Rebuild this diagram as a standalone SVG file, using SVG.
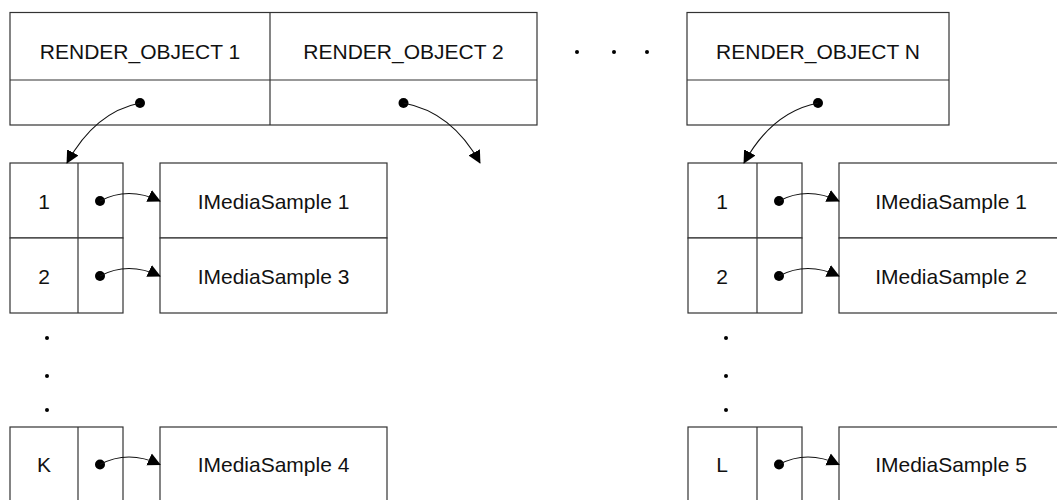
<svg xmlns="http://www.w3.org/2000/svg" width="1057" height="500" viewBox="0 0 1057 500">
<defs>
<style>
.box{fill:#fff;stroke:#333;stroke-width:1.2}
.ln{stroke:#333;stroke-width:1.2;fill:none}
.t{font-family:"Liberation Sans",Arial,sans-serif;font-size:21px;fill:#111;text-anchor:middle}
.c{fill:none;stroke:#111;stroke-width:1.1}
.d{fill:#000}
</style>
<marker id="ah" viewBox="0 0 14 14" refX="13" refY="7" markerUnits="userSpaceOnUse" markerWidth="13" markerHeight="14" orient="auto">
<path d="M0,0 L14,7 L0,14 z" fill="#000"/>
</marker>
</defs>
<rect width="1057" height="500" fill="#fff"/>

<g id="render-table-1">
<rect class="box" x="10" y="12.5" width="527" height="112.5"/>
<line class="ln" x1="10" y1="80" x2="537" y2="80"/>
<line class="ln" x1="270" y1="12.5" x2="270" y2="125"/>
<text class="t" x="140" y="59">RENDER_OBJECT 1</text>
<text class="t" x="403.5" y="59">RENDER_OBJECT 2</text>
</g>

<g id="ellipsis-h">
<circle class="d" cx="577" cy="52" r="2"/>
<circle class="d" cx="614" cy="52" r="2"/>
<circle class="d" cx="647" cy="52" r="2"/>
</g>

<g id="render-table-n">
<rect class="box" x="687" y="12.5" width="262" height="112.5"/>
<line class="ln" x1="687" y1="80" x2="949" y2="80"/>
<text class="t" x="818" y="59">RENDER_OBJECT N</text>
</g>

<g id="list-1">
<rect class="box" x="10" y="163" width="113" height="75"/>
<line class="ln" x1="78" y1="163" x2="78" y2="238"/>
<text class="t" x="44" y="208.5">1</text>
<rect class="box" x="10" y="238" width="113" height="75"/>
<line class="ln" x1="78" y1="238" x2="78" y2="313"/>
<text class="t" x="44" y="283.5">2</text>
<circle class="d" cx="47" cy="338" r="2"/>
<circle class="d" cx="47" cy="376" r="2"/>
<circle class="d" cx="47" cy="410" r="2"/>
<rect class="box" x="10" y="427" width="113" height="80"/>
<line class="ln" x1="78" y1="427" x2="78" y2="507"/>
<text class="t" x="44" y="472">K</text>
</g>

<g id="samples-1">
<rect class="box" x="160" y="163" width="227" height="75"/>
<text class="t" x="273.5" y="208.5">IMediaSample 1</text>
<rect class="box" x="160" y="238" width="227" height="75"/>
<text class="t" x="273.5" y="283.5">IMediaSample 3</text>
<rect class="box" x="160" y="427" width="227" height="80"/>
<text class="t" x="273.5" y="472">IMediaSample 4</text>
</g>

<g id="list-n">
<rect class="box" x="688" y="163" width="114" height="75"/>
<line class="ln" x1="757" y1="163" x2="757" y2="238"/>
<text class="t" x="722" y="208.5">1</text>
<rect class="box" x="688" y="238" width="114" height="75"/>
<line class="ln" x1="757" y1="238" x2="757" y2="313"/>
<text class="t" x="722" y="283.5">2</text>
<circle class="d" cx="726" cy="338" r="2"/>
<circle class="d" cx="726" cy="376" r="2"/>
<circle class="d" cx="726" cy="410" r="2"/>
<rect class="box" x="688" y="427" width="114" height="80"/>
<line class="ln" x1="757" y1="427" x2="757" y2="507"/>
<text class="t" x="722" y="472">L</text>
</g>

<g id="samples-n">
<rect class="box" x="839" y="163" width="226" height="75"/>
<text class="t" x="951" y="208.5">IMediaSample 1</text>
<rect class="box" x="839" y="238" width="226" height="75"/>
<text class="t" x="951" y="283.5">IMediaSample 2</text>
<rect class="box" x="839" y="427" width="226" height="80"/>
<text class="t" x="951" y="472">IMediaSample 5</text>
</g>

<g id="connectors">
<circle class="d" cx="140" cy="103" r="5"/>
<path class="c" d="M140,103 Q95,112 67,163" marker-end="url(#ah)"/>
<circle class="d" cx="403.5" cy="103" r="5"/>
<path class="c" d="M403.5,103 Q452,112 480,163" marker-end="url(#ah)"/>
<circle class="d" cx="818" cy="103" r="5"/>
<path class="c" d="M818,103 Q772,112 744,163" marker-end="url(#ah)"/>

<circle class="d" cx="100" cy="201" r="5"/>
<path class="c" d="M100,201 Q128,186 160,201" marker-end="url(#ah)"/>
<circle class="d" cx="100" cy="276" r="5"/>
<path class="c" d="M100,276 Q128,261 160,276" marker-end="url(#ah)"/>
<circle class="d" cx="100" cy="464.5" r="5"/>
<path class="c" d="M100,464.5 Q128,449.5 160,464.5" marker-end="url(#ah)"/>

<circle class="d" cx="779" cy="201" r="5"/>
<path class="c" d="M779,201 Q807,186 839,201" marker-end="url(#ah)"/>
<circle class="d" cx="779" cy="276" r="5"/>
<path class="c" d="M779,276 Q807,261 839,276" marker-end="url(#ah)"/>
<circle class="d" cx="779" cy="464.5" r="5"/>
<path class="c" d="M779,464.5 Q807,449.5 839,464.5" marker-end="url(#ah)"/>
</g>
</svg>
